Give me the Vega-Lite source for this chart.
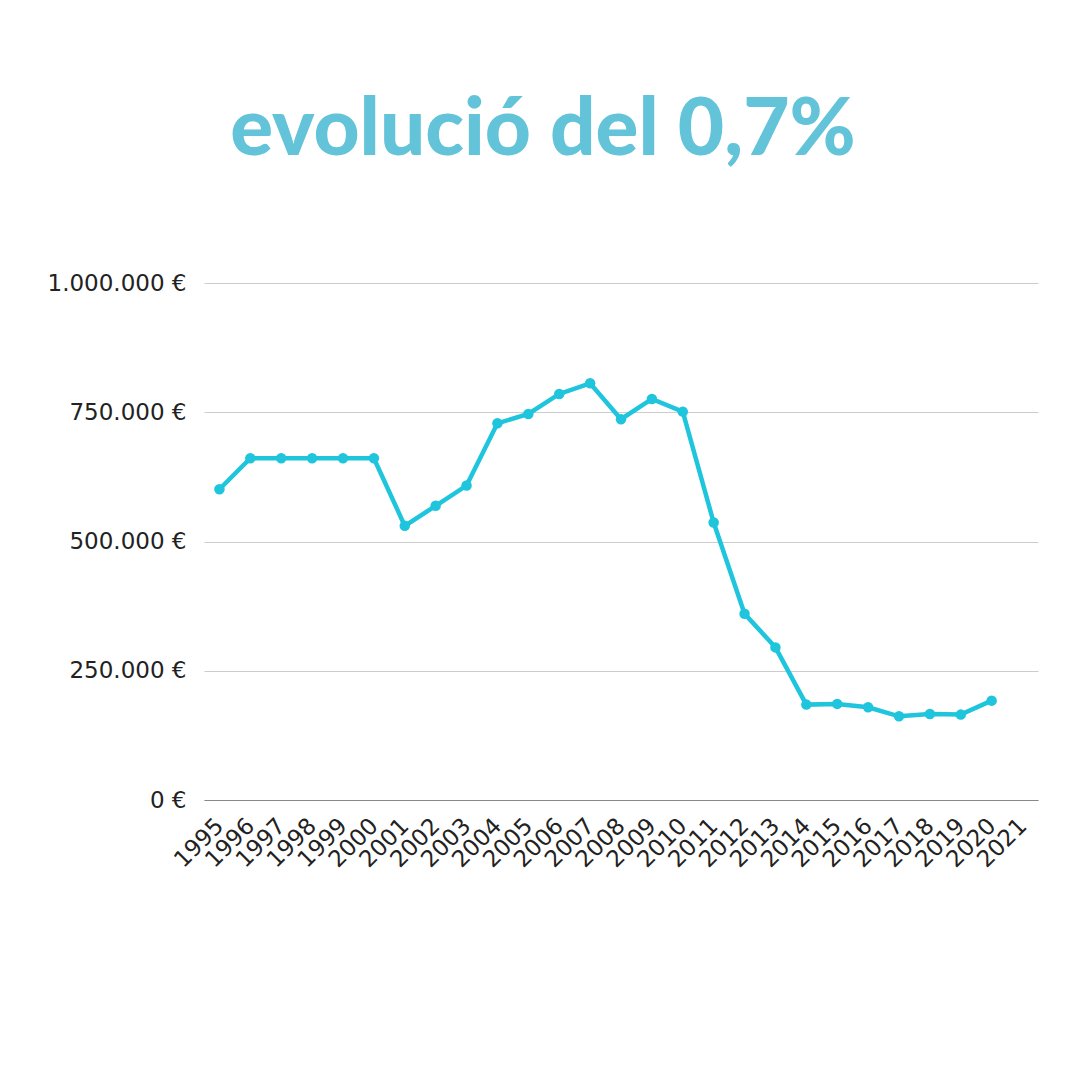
{
  "$schema": "https://vega.github.io/schema/vega-lite/v6.json",
  "width": 834,
  "height": 517,
  "autosize": "none",
  "padding": {"left": 204, "top": 283, "right": 42, "bottom": 280},
  "background": "white",
  "config": {
    "locale": {"number": {"decimal": ",", "thousands": ".", "grouping": [3], "currency": ["", " €"]}},
    "view": {"stroke": null}
  },
  "title": {
    "text": "evolució del 0,7%",
    "font": "Lato",
    "fontWeight": 900,
    "fontSize": 80,
    "color": "#62C3D9",
    "anchor": "middle",
    "frame": "group",
    "offset": 100,
    "dx": -78
  },
  "data": {
    "values": [
      {"year": "1995", "amount": 601000},
      {"year": "1996", "amount": 661000},
      {"year": "1997", "amount": 661000},
      {"year": "1998", "amount": 661000},
      {"year": "1999", "amount": 661000},
      {"year": "2000", "amount": 661000},
      {"year": "2001", "amount": 530300},
      {"year": "2002", "amount": 569000},
      {"year": "2003", "amount": 608200},
      {"year": "2004", "amount": 728700},
      {"year": "2005", "amount": 746700},
      {"year": "2006", "amount": 785400},
      {"year": "2007", "amount": 806000},
      {"year": "2008", "amount": 736500},
      {"year": "2009", "amount": 775700},
      {"year": "2010", "amount": 751200},
      {"year": "2011", "amount": 536700},
      {"year": "2012", "amount": 360300},
      {"year": "2013", "amount": 295200},
      {"year": "2014", "amount": 184500},
      {"year": "2015", "amount": 185900},
      {"year": "2016", "amount": 179300},
      {"year": "2017", "amount": 161900},
      {"year": "2018", "amount": 166500},
      {"year": "2019", "amount": 165200},
      {"year": "2020", "amount": 192200}
    ]
  },
  "encoding": {
    "x": {
      "field": "year",
      "type": "ordinal",
      "scale": {
        "type": "point",
        "padding": 0.5,
        "domain": ["1995","1996","1997","1998","1999","2000","2001","2002","2003","2004","2005","2006","2007","2008","2009","2010","2011","2012","2013","2014","2015","2016","2017","2018","2019","2020","2021"]
      },
      "axis": {
        "title": null,
        "labelAngle": -45,
        "labelAlign": "right",
        "labelBaseline": "middle",
        "labelFont": "DejaVu Sans",
        "labelFontSize": 23,
        "labelColor": "#222222",
        "labelPadding": 22,
        "ticks": false,
        "domainColor": "#888888",
        "domainWidth": 1,
        "grid": false,
        "labelOverlap": false
      }
    },
    "y": {
      "field": "amount",
      "type": "quantitative",
      "scale": {"domain": [0, 1000000], "nice": false},
      "axis": {
        "title": null,
        "values": [0, 250000, 500000, 750000, 1000000],
        "format": "$,.0f",
        "labelFont": "DejaVu Sans",
        "labelFontSize": 23,
        "labelColor": "#222222",
        "labelPadding": 18,
        "ticks": false,
        "domain": false,
        "gridColor": "#cccccc",
        "gridWidth": 1
      }
    }
  },
  "layer": [
    {"mark": {"type": "line", "color": "#1EC5DC", "strokeWidth": 4.5}},
    {"mark": {"type": "point", "filled": true, "opacity": 1, "color": "#1EC5DC", "size": 110}}
  ]
}
